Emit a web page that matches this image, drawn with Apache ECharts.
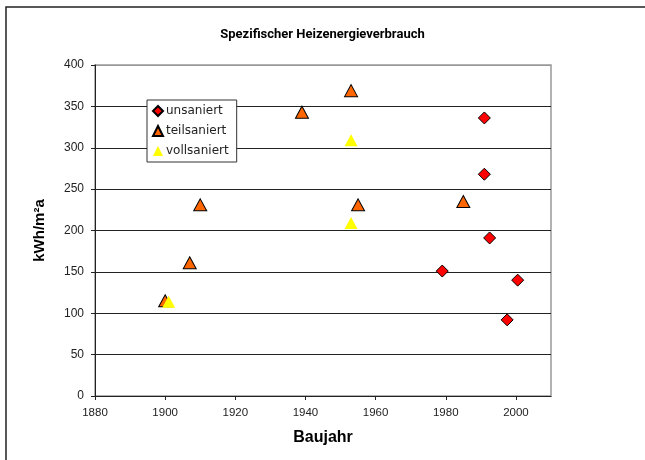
<!DOCTYPE html>
<html>
<head>
<meta charset="utf-8">
<script src="https://cdn.jsdelivr.net/npm/echarts@6/dist/echarts.min.js"></script>
<style>
  html, body { margin: 0; padding: 0; background: #fff; }
  #chart { width: 645px; height: 460px; }
</style>
</head>
<body>
<div id="chart"></div>
<script>
// values
const unsaniertYear = [1991, 1991, 1992.5, 1979, 2000.5, 1997.5];
const unsaniertVal = [336, 268, 191, 151, 140, 92];

const teilsaniertYear = [1900, 1907, 1910, 1939, 1953, 1955, 1985];
const teilsaniertVal = [115, 161, 231, 343, 369, 231, 235];

const vollsaniertYear = [1901, 1953, 1953];
const vollsaniertVal = [114, 309, 209];

const xTicks = [1880, 1900, 1920, 1940, 1960, 1980, 2000];

const pairs = (xs, ys) => xs.map((x, i) => [x, ys[i]]);

const chart = echarts.init(document.getElementById('chart'));

// top grid line is the grey plot border, the rest are dark
const splitColors = ['#222', '#222', '#222', '#222', '#222', '#222', '#222', '#222', '#999'];

chart.setOption({
  backgroundColor: '#fff',
  animation: false,
  title: {
    text: 'Spezifischer Heizenergieverbrauch',
    left: 'center',
    top: 23,
    textStyle: {
      fontFamily: '"Liberation Sans Narrow", Roboto, sans-serif',
      fontWeight: 'bold',
      fontSize: 13,
      color: '#000',
    },
  },
  graphic: [
    {
      type: 'rect',
      shape: { x: 6, y: 7, width: 700, height: 500 },
      style: { fill: 'none', stroke: '#222', lineWidth: 1.5 },
      silent: true,
    },
  ],
  grid: {
    left: 95,
    right: 94,
    top: 65,
    bottom: 64,
    show: true,
    borderColor: '#999',
    borderWidth: 1.5,
  },
  legend: {
    orient: 'vertical',
    left: 147,
    top: 100,
    backgroundColor: '#fff',
    borderColor: '#333',
    borderWidth: 1,
    borderRadius: 0,
    padding: [4, 8, 4, 5],
    itemWidth: 10,
    itemHeight: 10,
    itemGap: 6,
    textStyle: {
      fontFamily: '"DejaVu Sans", sans-serif',
      fontSize: 12,
      color: '#222',
      lineHeight: 14,
      padding: [0, 0, 0, -2],
    },
    data: ['unsaniert', 'teilsaniert', 'vollsaniert'],
  },
  xAxis: {
    type: 'value',
    min: 1880,
    max: 2010,
    interval: 20,
    name: 'Baujahr',
    nameLocation: 'middle',
    nameGap: 34,
    nameTextStyle: {
      fontFamily: '"Liberation Sans", Arial, sans-serif',
      fontWeight: 'bold',
      fontSize: 16,
      color: '#000',
    },
    axisLine: { show: true, onZero: false, lineStyle: { color: '#222', width: 1 } },
    axisTick: { show: true, customValues: xTicks, length: 4, lineStyle: { color: '#222' } },
    axisLabel: {
      customValues: xTicks,
      formatter: (v) => String(v),
      margin: 11,
      fontFamily: '"Liberation Sans", Arial, sans-serif',
      fontSize: 11.5,
      color: '#222',
    },
    splitLine: { show: false },
  },
  yAxis: {
    type: 'value',
    min: 0,
    max: 400,
    interval: 50,
    name: 'kWh/m²a',
    nameLocation: 'middle',
    nameGap: 48,
    nameTextStyle: {
      fontFamily: '"Liberation Sans", Arial, sans-serif',
      fontWeight: 'bold',
      fontSize: 15,
      color: '#000',
    },
    axisLine: { show: true, onZero: false, lineStyle: { color: '#222', width: 1 } },
    axisTick: { show: true, length: 4, lineStyle: { color: '#222' } },
    axisLabel: {
      margin: 11,
      fontFamily: '"Liberation Sans", Arial, sans-serif',
      fontSize: 12,
      color: '#222',
    },
    splitLine: { show: true, lineStyle: { color: splitColors, width: 1 } },
  },
  series: [
    {
      name: 'unsaniert',
      type: 'scatter',
      symbol: 'diamond',
      symbolSize: [12, 12],
      itemStyle: { color: '#ff0000', borderColor: '#000', borderWidth: 1, opacity: 1 },
      data: pairs(unsaniertYear, unsaniertVal),
    },
    {
      name: 'teilsaniert',
      type: 'scatter',
      symbol: 'triangle',
      symbolSize: [13, 12],
      itemStyle: { color: '#ff6600', borderColor: '#000', borderWidth: 1, opacity: 1 },
      data: pairs(teilsaniertYear, teilsaniertVal),
    },
    {
      name: 'vollsaniert',
      type: 'scatter',
      symbol: 'triangle',
      symbolSize: [13, 12],
      itemStyle: { color: '#ffff00', opacity: 1 },
      data: pairs(vollsaniertYear, vollsaniertVal),
    },
  ],
});
</script>
</body>
</html>
